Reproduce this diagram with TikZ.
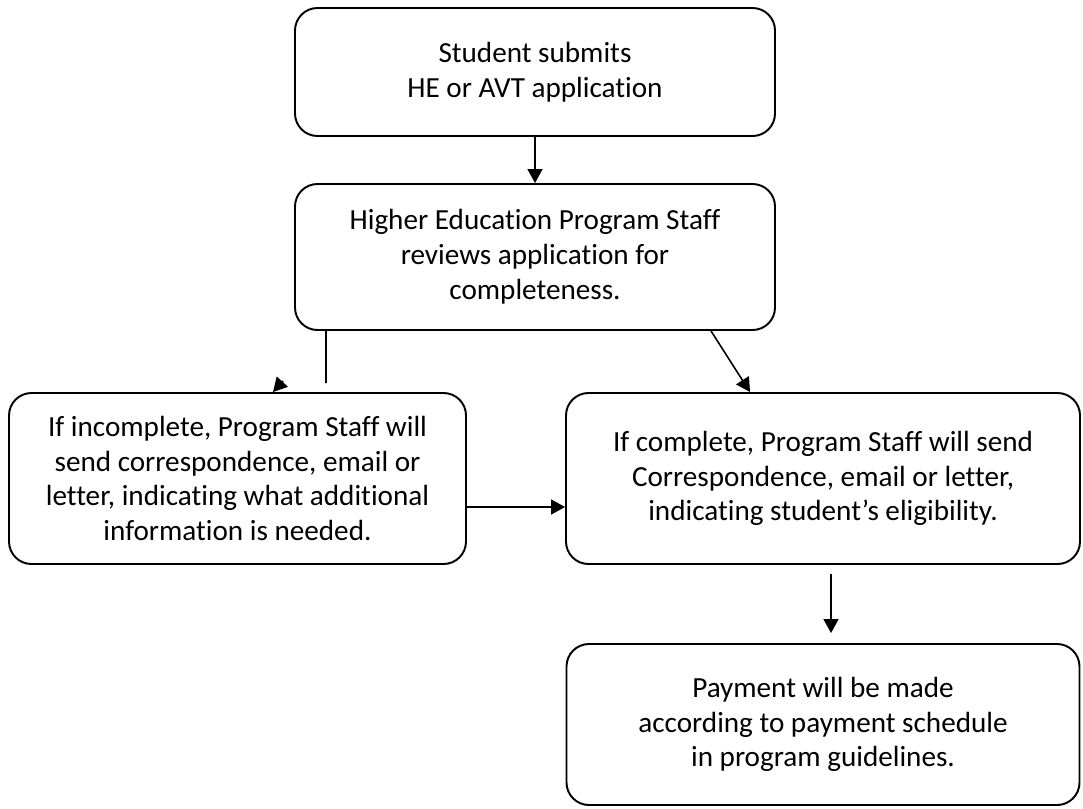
\documentclass[tikz,border=0pt]{standalone}
\usepackage{fontspec}
\setmainfont{Carlito}[Ligatures=NoCommon]
\usetikzlibrary{arrows, arrows.meta}
\tikzstyle{stage} = [rectangle, rounded corners=0.45cm, text centered, align=center, draw=black, line width=1.1pt, font=\fontsize{16.6pt}{19.8pt}\selectfont]
\tikzstyle{arrow} = [line width=0.9pt, -{Triangle[width=0.3cm,length=0.28cm]}]

\begin{document}
\begin{tikzpicture}
    \useasboundingbox (0,0) rectangle (21.66,-16.16);

    % Cajas del diagrama
    \node (submit) [stage, minimum width=9.6cm, minimum height=2.56cm] at (10.70,-1.44) {Student submits\\HE or AVT application};
    \node (review) [stage, minimum width=9.6cm, minimum height=2.92cm, node distance=3.70cm, below of=submit] {Higher Education Program Staff\\reviews application for\\completeness.};
    \node (complete) [stage, minimum width=10.28cm, minimum height=3.42cm, node distance=4.43cm, below of=review, xshift=5.76cm] {If complete, Program Staff will send\\Correspondence, email or letter,\\indicating student’s eligibility.};
    \node (incomplete) [stage, minimum width=9.14cm, minimum height=3.42cm, node distance=11.71cm, left of=complete] {If incomplete, Program Staff will\\send correspondence, email or\\letter, indicating what additional\\information is needed.};
    \node (payment) [stage, minimum width=10.26cm, minimum height=3.22cm, node distance=4.92cm, below of=complete] {Payment will be made\\according to payment schedule\\in program guidelines.};

    % Puntos sueltos
    \coordinate (elbow) at (6.52,-7.66);
    \coordinate (stub) at (5.66,-7.62);

    % Flechas
    \draw [arrow] (submit) -- (review);
    \draw [line width=0.9pt] ([xshift=-4.18cm]review.south) -- (elbow);
    \draw [arrow] (stub) -- ([xshift=0.71cm]incomplete.north);
    \draw [arrow] ([xshift=3.52cm]review.south) -- ([xshift=-1.46cm]complete.north);
    \draw [arrow] ([yshift=-0.57cm]incomplete.east) -- ([yshift=-0.57cm]complete.west);
    \draw [arrow] ([xshift=0.16cm,yshift=-0.18cm]complete.south) -- ([xshift=0.16cm,yshift=0.2cm]payment.north);

\end{tikzpicture}
\end{document}
